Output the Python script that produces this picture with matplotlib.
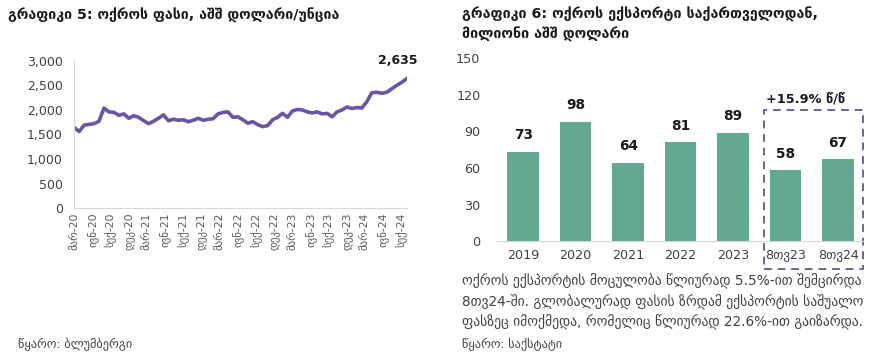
import numpy as np
import pandas as pd
import matplotlib
matplotlib.use("Agg")
import matplotlib.pyplot as plt
from matplotlib.patches import Rectangle

plt.rcParams['font.family'] = ['DejaVu Sans']

# ---- data: gold price, USD/oz ----
gold_price = [1640, 1560, 1690, 1705, 1720, 1770, 2040, 1960, 1950, 1890,
              1920, 1830, 1880, 1850, 1780, 1720, 1770, 1830, 1900, 1780,
              1810, 1790, 1800, 1760, 1790, 1830, 1790, 1810, 1820, 1920,
              1950, 1960, 1850, 1860, 1800, 1730, 1760, 1700, 1660, 1680,
              1800, 1850, 1930, 1850, 1980, 2010, 2000, 1960, 1940, 1960,
              1920, 1930, 1860, 1960, 2000, 2060, 2030, 2050, 2040, 2170,
              2350, 2360, 2340, 2360, 2430, 2500, 2560, 2635]
price_start = "2020-03-02"
price_end = "2024-09-27"
tick_dates = pd.date_range("2020-03-01", "2024-09-01", freq="3MS")
month_names = {3: "მარ", 6: "ივნ", 9: "სექ", 12: "დეკ"}
tick_labels = [f"{month_names[d.month]}-{d.strftime('%y')}" for d in tick_dates]

# ---- data: gold exports, mln USD ----
export_cats = ["2019", "2020", "2021", "2022", "2023", "8თვ23", "8თვ24"]
export_vals = [73, 98, 64, 81, 89, 58, 67]

title_left = "გრაფიკი 5: ოქროს ფასი, აშშ დოლარი/უნცია"
title_right = "გრაფიკი 6: ოქროს ექსპორტი საქართველოდან,\nმილიონი აშშ დოლარი"
note_right = ("ოქროს ექსპორტის მოცულობა წლიურად 5.5%-ით შემცირდა\n"
              "8თვ24-ში. გლობალურად ფასის ზრდამ ექსპორტის საშუალო\n"
              "ფასზეც იმოქმედა, რომელიც წლიურად 22.6%-ით გაიზარდა.")
source_left = "წყარო: ბლუმბერგი"
source_right = "წყარო: საქსტატი"

purple = "#6A55A4"
green = "#62A98F"
grey_txt = "#404040"
spine_c = "#D9D9D9"

fig = plt.figure(figsize=(8.75, 3.52), dpi=100)

# ---------------- left chart ----------------
ax1 = fig.add_axes([0.0846, 0.409, 0.380, 0.418])
dates = pd.date_range(price_start, price_end, periods=len(gold_price))
ax1.plot(dates, gold_price, color=purple, lw=2.6, solid_joinstyle="round")
ax1.set_ylim(0, 3000)
ax1.set_xlim(pd.Timestamp("2020-03-01"), pd.Timestamp(price_end))
ax1.set_yticks(range(0, 3001, 500))
ax1.yaxis.set_major_formatter(matplotlib.ticker.StrMethodFormatter("{x:,.0f}"))
ax1.set_xticks(tick_dates)
ax1.set_xticklabels(tick_labels, rotation=90, fontsize=7.8, color="#595959")
ax1.tick_params(axis="y", length=0, labelsize=9, colors=grey_txt, pad=8)
ax1.tick_params(axis="x", length=0, pad=3)
for s in ["top", "right"]:
    ax1.spines[s].set_visible(False)
for s in ["left", "bottom"]:
    ax1.spines[s].set_color(spine_c)
ax1.annotate(f"{gold_price[-1]:,}", (dates[-1], gold_price[-1]),
             xytext=(-6, 13), textcoords="offset points", ha="center",
             va="center", fontsize=9, fontweight="bold", color="#1a1a1a")

fig.text(8 / 875, 1 - 15 / 352, title_left, fontsize=10.2, fontweight="bold",
         va="center", ha="left", color="#1a1a1a")
fig.text(18 / 875, 1 - 345 / 352, source_left, fontsize=8.8, va="center",
         color=grey_txt)

# ---------------- right chart ----------------
ax2 = fig.add_axes([0.568, 0.315, 0.418, 0.520])
x = np.arange(len(export_cats))
ax2.bar(x, export_vals, width=0.6, color=green)
ax2.set_ylim(0, 150)
ax2.set_xlim(-0.5, 6.47)
ax2.set_yticks(range(0, 151, 30))
ax2.set_xticks(x)
ax2.set_xticklabels(export_cats)
ax2.tick_params(length=0, labelsize=9.2, colors=grey_txt)
ax2.tick_params(axis="y", pad=12)
ax2.tick_params(axis="x", pad=6)
for s in ["top", "right", "left"]:
    ax2.spines[s].set_visible(False)
ax2.spines["bottom"].set_color(spine_c)
for xi, v in zip(x, export_vals):
    ax2.text(xi, v + 8, f"{v}", ha="center", va="bottom", fontsize=9.8,
             fontweight="bold", color="#1a1a1a")

box = Rectangle((4.58, -23), 1.89, 130.4, fill=False, ls=(0, (4, 3)),
                lw=1.4, edgecolor="#6B6690", clip_on=False)
ax2.add_patch(box)
ax2.text(4.62, 116.5, "+15.9% წ/წ", ha="left", va="center", fontsize=9.3,
         fontweight="bold", color="#1a1a1a")

fig.text(462 / 875, 1 - 24 / 352, title_right, fontsize=10.3,
         fontweight="bold", va="center", ha="left", color="#1a1a1a",
         linespacing=1.4)
fig.text(462 / 875, 1 - 302 / 352, note_right, fontsize=9.8, va="center",
         ha="left", color=grey_txt, linespacing=1.4)
fig.text(462 / 875, 1 - 345 / 352, source_right, fontsize=8.8, va="center",
         color=grey_txt)

fig.savefig("out.png", dpi=100)
